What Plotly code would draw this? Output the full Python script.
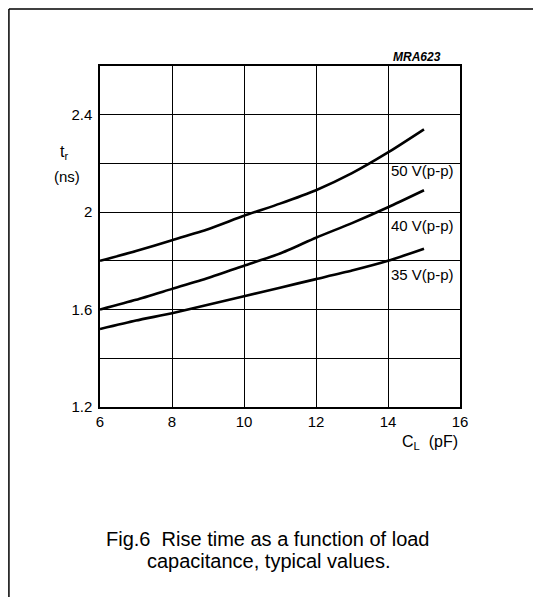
import plotly.graph_objects as go

# load capacitance (pF)
cl = [6, 7, 8, 9, 10, 11, 12, 13, 14, 15]

# rise time (ns) per output swing
tr_50v = [1.80, 1.84, 1.885, 1.93, 1.985, 2.035, 2.09, 2.16, 2.245, 2.34]
tr_40v = [1.60, 1.64, 1.685, 1.73, 1.78, 1.83, 1.895, 1.955, 2.02, 2.09]
tr_35v = [1.52, 1.555, 1.585, 1.62, 1.655, 1.69, 1.725, 1.76, 1.80, 1.85]

series_names = ["50 V(p-p)", "40 V(p-p)", "35 V(p-p)"]
label_y = [2.17, 1.945, 1.745]

x_ticks = [6, 8, 10, 12, 14, 16]
y_grid = [1.2, 1.4, 1.6, 1.8, 2.0, 2.2, 2.4, 2.6]
y_text = ["1.2", "", "1.6", "", "2", "", "2.4", ""]

FONT = "Liberation Sans, Arial, sans-serif"

fig = go.Figure()

for ys in [tr_50v, tr_40v, tr_35v]:
    fig.add_trace(go.Scatter(
        x=cl, y=ys, mode="lines",
        line=dict(color="black", width=2.6, shape="spline", smoothing=0.6),
        showlegend=False, hoverinfo="skip"
    ))

for name, ly in zip(series_names, label_y):
    fig.add_annotation(
        x=14.02, y=ly, text=name, showarrow=False,
        xanchor="left", yanchor="middle",
        font=dict(size=15, color="black", family=FONT)
    )

fig.update_xaxes(
    range=[6, 16], tickvals=x_ticks, showgrid=True,
    gridcolor="black", gridwidth=1.2,
    showline=True, linecolor="black", linewidth=1.5, mirror=True,
    zeroline=False, ticks="", ticklabelstandoff=0,
    tickfont=dict(size=15, color="black", family=FONT)
)
fig.update_yaxes(
    range=[1.2, 2.6], tickvals=y_grid, ticktext=y_text, showgrid=True,
    gridcolor="black", gridwidth=1.2,
    showline=True, linecolor="black", linewidth=1.5, mirror=True,
    zeroline=False, ticks="", ticklabelstandoff=3,
    tickfont=dict(size=15, color="black", family=FONT)
)

# axis titles
fig.add_annotation(
    xref="paper", yref="paper", x=-0.1, y=0.745,
    text="t<sub>r</sub>", showarrow=False, xanchor="center", yanchor="middle",
    font=dict(size=16, color="black", family=FONT)
)
fig.add_annotation(
    xref="paper", yref="paper", x=-0.092, y=0.677,
    text="(ns)", showarrow=False, xanchor="center", yanchor="middle",
    font=dict(size=15, color="black", family=FONT)
)
fig.add_annotation(
    xref="paper", yref="paper", x=0.917, y=-0.105,
    text="C<sub>L</sub>  (pF)", showarrow=False, xanchor="center", yanchor="middle",
    font=dict(size=16, color="black", family=FONT)
)

# figure code
fig.add_annotation(
    xref="paper", yref="paper", x=0.952, y=1.026,
    text="<b><i>MRA623</i></b>", showarrow=False, xanchor="right", yanchor="middle",
    font=dict(size=12, color="black", family=FONT)
)

# caption
fig.add_annotation(
    xref="paper", yref="paper", x=0.467, y=-0.387,
    text="Fig.6  Rise time as a function of load",
    showarrow=False, xanchor="center", yanchor="middle",
    font=dict(size=20, color="black", family=FONT)
)
fig.add_annotation(
    xref="paper", yref="paper", x=0.467, y=-0.452,
    text="capacitance, typical values.",
    showarrow=False, xanchor="center", yanchor="middle",
    font=dict(size=20, color="black", family=FONT)
)

# outer frame (left and top edges)
fig.add_shape(type="line", xref="paper", yref="paper",
              x0=-0.253, x1=-0.253, y0=1.167, y1=-0.6,
              line=dict(color="black", width=1.5))
fig.add_shape(type="line", xref="paper", yref="paper",
              x0=-0.253, x1=1.3, y0=1.167, y1=1.167,
              line=dict(color="black", width=1.5))

fig.update_layout(
    width=541, height=597,
    margin=dict(l=92, r=89, t=58, b=198),
    plot_bgcolor="white", paper_bgcolor="white",
    font=dict(family=FONT, color="black")
)

fig.write_html("out.html")
